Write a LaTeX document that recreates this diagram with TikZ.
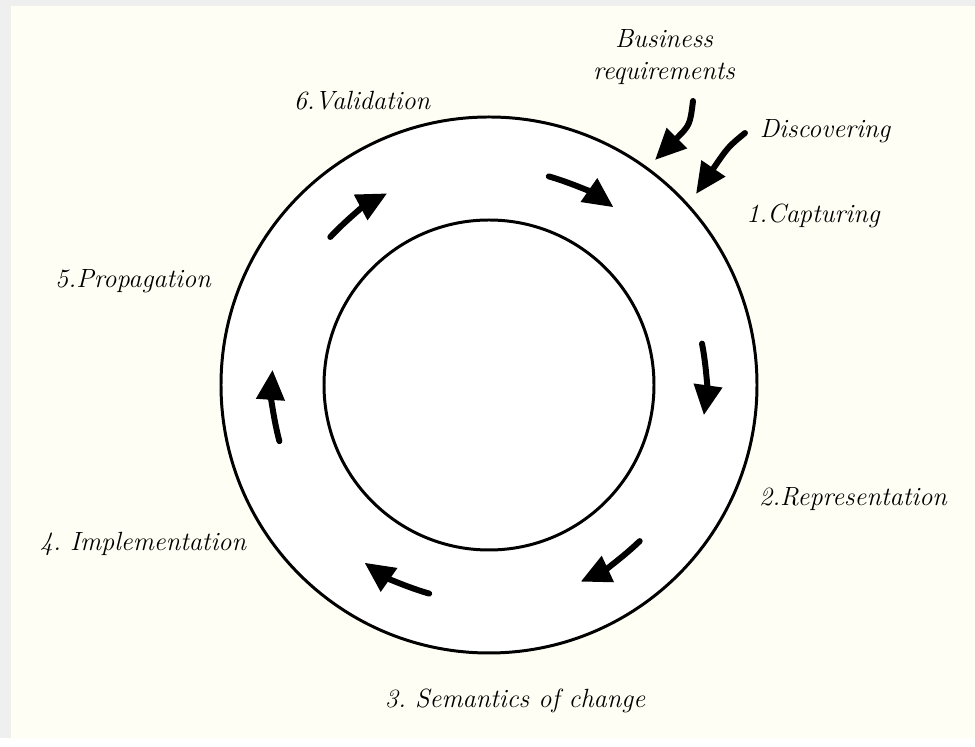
\documentclass[tikz,border=0pt]{standalone}
\usepackage{tikz}
\usepackage{xcolor}
\usetikzlibrary{arrows.meta}

\definecolor{paper}{HTML}{FEFEF4}
\definecolor{frame}{HTML}{EFEFEF}

\tikzset{
  hand/.style={font=\fontsize{15}{18}\selectfont\itshape\frenchspacing, align=center},
  ringarrow/.style={line width=3.4pt, line cap=round, -{Triangle[length=0.6cm, width=0.55cm]}},
  inarrow/.style={line width=3.4pt, line cap=round, -{Triangle[length=0.62cm, width=0.55cm]}},
}

\begin{document}
\begin{tikzpicture}[x=0.02cm, y=0.02cm]
% page
\fill[frame] (0,0) rectangle (975,747);
\fill[white] (0,0) rectangle (975,9);
\fill[paper] (11,9) rectangle (975,741);
% ring
\coordinate (c) at (489,362);
\fill[white] (c) circle (268);
\draw[line width=1.7pt] (c) circle (268);
\draw[line width=1.7pt] (c) circle (165);
% cycle arrows
\foreach \a in {74, 11, -46, -106, -165, 137}
    \draw[ringarrow] (c) ++(\a:217) arc[start angle=\a, end angle=\a-19, radius=217];
% labels
\node[hand] (business) at (664,690) {Business\\requirements};
\node[hand] (discover) at (825,616) {Discovering};
\node[hand] (capture) at (813,531) {1.Capturing};
\node[hand] (repr) at (853,248) {2.Representation};
\node[hand] (sem) at (515,46) {3. Semantics of change};
\node[hand] (impl) at (143,203) {4. Implementation};
\node[hand] (prop) at (133,466) {5.Propagation};
\node[hand] (valid) at (362,646) {6.Validation};
% inputs
\coordinate (b1) at (693,646);
\coordinate (b2) at (655,587);
\coordinate (d1) at (745,614);
\coordinate (d2) at (696,553);
\draw[inarrow] (b1) .. controls (690,622) .. (b2);
\draw[inarrow] (d1) .. controls (728,600) .. (d2);
\end{tikzpicture}
\end{document}
